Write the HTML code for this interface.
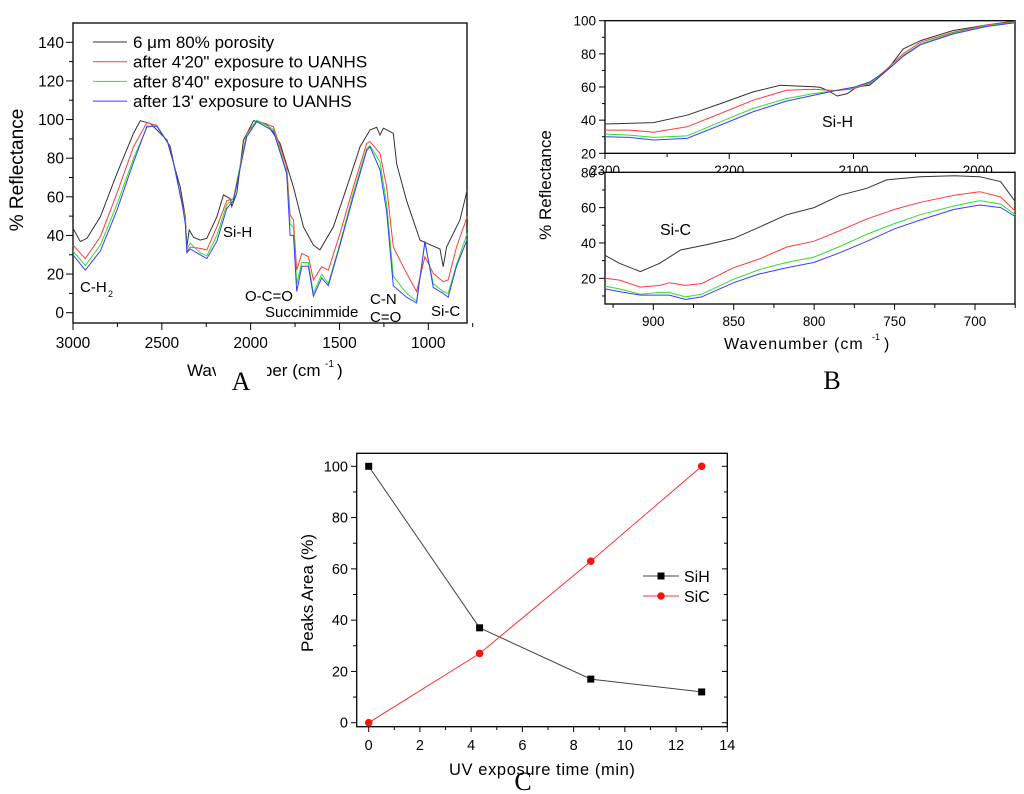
<!DOCTYPE html>
<html><head><meta charset="utf-8"><style>
html,body{margin:0;padding:0;background:#fff;}
svg{display:block;font-family:"Liberation Sans",sans-serif;}
</style></head><body>
<svg id="fig" width="1024" height="794" viewBox="0 0 1024 794" xmlns="http://www.w3.org/2000/svg"></svg>
<script>
// ---------- Panel A data ----------
const aWaveBlack=[3000,2959,2921,2846,2753,2659,2621,2565,2471,2396,2368,2359,2346,2321,2284,2247,2190,2153,2115,2106,2078,2040,1984,1909,1834,1759,1703,1647,1610,1534,1459,1384,1328,1291,1272,1253,1197,1178,1122,1047,1009,934,916,897,822,781];
const aBlack=[43.7,36.8,38.5,49.7,72,93,99.4,98,89.4,65,49.7,34,42.8,39,37.6,38.5,49.7,61,59,55,62,89.4,99.4,97.7,87.7,65,44.5,35,32.5,44.5,65,86,94.6,96,92,95.5,92.9,77,58,37.6,36,33,23.8,34,48,63.5];
const aWave=[3000,2931,2846,2753,2659,2584,2528,2453,2387,2368,2359,2340,2284,2247,2190,2134,2097,2022,1966,1872,1797,1778,1759,1741,1712,1675,1647,1600,1563,1497,1422,1347,1328,1272,1234,1197,1122,1066,1019,972,916,888,841,781];
const aRed=[35,28,39.4,61.8,86,98.4,97,86,56.6,49.7,31.6,34,33.3,32.5,44.5,58,59,92.9,99.4,96.3,75.6,50.6,48,22,30.7,29,17,23.8,22,41,65,87.7,88.6,82.5,65,34,20.4,10.9,29,20.4,16,17,34,49.7];
const aGreen=[32,24.5,35,56,80,96,97,86,57,48,33,36,31,29.5,40,56,59,92,99.6,95,73,46,44,15,26,26,10,20,15,36,62,85,86.5,78,56,19,10,6,36,15,11,10,25,41];
const aBlue=[30,22,32,53,78,96.5,96.5,86,57,46,31,33,30,28,37,54,58,91,99,94,72,40,40,11,24,24,8.5,18,14,35,60,84,86,74,52,14,8,5,37,13,10,8,24,38];
const aYTicks=[0,20,40,60,80,100,120,140];
const aXTicks=[3000,2500,2000,1500,1000];
const aLegend=["6 \u03bcm 80% porosity","after 4'20\" exposure to UANHS","after 8'40\" exposure to UANHS","after 13' exposure to UANHS"];
// ---------- Panel B data ----------
const bhWave=[2300,2280,2261,2234,2207,2181,2154,2132,2113,2100,2087,2073,2060,2046,2020,1993,1970];
const bhWaveBlack=[2300,2261,2234,2207,2181,2159,2146,2132,2127,2121,2113,2105,2097,2087,2073,2060,2046,2020,1993,1970];
const bhBlack=[37.7,38.5,43,50,57,61,60.6,60.2,59.8,58,54.6,56,60.2,61,70,83,88,94,97.4,99.8];
const bhRed=[34,34,32.7,36,44,52,58,58.6,57.8,59,62,71,80,87,93,97.4,99.4];
const bhGreen=[31.6,31,29.6,30.5,39,47,53,56,58,59.5,62.5,70,79,86,92.5,97,99];
const bhBlue=[30,29.6,28,29,37,45,51.5,55,58,59.8,63,70,78.5,85.5,92,96.5,98.8];
const bhYTicks=[20,40,60,80,100];
const bhXTicks=[2300,2200,2100,2000];
const bcWaveBlack=[930,921,908,896,883,867,850,834,817,800,784,767,755,734,713,697,684,675];
const bcBlack=[33,28.5,23.8,28.5,36,39,42.6,49,56,60,67,71,75.7,77.5,78,77.5,74.7,63.4];
const bcWave=[930,921,908,896,890,880,870,850,834,817,800,784,767,750,734,713,697,684,675];
const bcRed=[20,19,15,16,17.5,16,17,26,31,37.7,41,47,53.7,59,63,67,69,66,58];
const bcGreen=[15.5,14,11,12,12,9.5,11,19.5,25,29,32,38,45,51,56,61,64,62,56];
const bcBlue=[14,12.5,10.5,10.5,10.5,8,9.5,17.5,22.5,26,29,34.5,41,48,53,59,61.5,60,55];
const bcYTicks=[20,40,60,80];
const bcXTicks=[900,850,800,750,700];
// ---------- Panel C data ----------
const cTime=[0,4.33,8.67,13];
const cSiH=[100,37,17,12];
const cSiC=[0,27,63,100];
const cYTicks=[0,20,40,60,80,100];
const cXTicks=[0,2,4,6,8,10,12,14];

const NS="http://www.w3.org/2000/svg";
const svg=document.getElementById('fig');
function el(tag,attrs,parent){const e=document.createElementNS(NS,tag);for(const k in attrs)e.setAttribute(k,attrs[k]);(parent||svg).appendChild(e);return e;}
function txt(s,attrs,parent){const e=el('text',attrs,parent);e.textContent=s;return e;}
function lin(d0,d1,r0,r1){return v=>r0+(v-d0)*(r1-r0)/(d1-d0);}
function poly(xs,ys,X,Y,color,g,name){
  const n=Math.min(xs.length,ys.length);let d='';
  for(let i=0;i<n;i++)d+=(i?'L':'M')+X(xs[i]).toFixed(1)+','+Y(ys[i]).toFixed(1);
  const p=el('path',{d:d,fill:'none',stroke:color,'stroke-width':1},g);
  
  
  return p;
}
const COLORS=['#333','#ff3b3b','#2ee02e','#3b3bff'];

// ================= Panel A =================
const gA=el('g',{});


const AX=lin(3000,1000,73,428.3), AY=lin(0,140,312.7,42.3);
el('rect',{x:73,y:23,width:394,height:300,fill:'none',stroke:'#000','stroke-width':1.3},gA);
poly(aWaveBlack,aBlack,AX,AY,COLORS[0],gA,'series-porous-si');
poly(aWave,aRed,AX,AY,COLORS[1],gA,'series-4min20');
poly(aWave,aGreen,AX,AY,COLORS[2],gA,'series-8min40');
poly(aWave,aBlue,AX,AY,COLORS[3],gA,'series-13min');
for(const t of aYTicks){const y=AY(t);el('line',{x1:66,x2:73,y1:y,y2:y,stroke:'#000'},gA);
  const l=txt(String(t),{x:64,y:y+5.5,'font-size':15.5,'text-anchor':'end'},gA);}
for(let t=10;t<=140;t+=20){const y=AY(t);el('line',{x1:69,x2:73,y1:y,y2:y,stroke:'#000'},gA);}
for(const t of aXTicks){const x=AX(t);el('line',{x1:x,x2:x,y1:323,y2:330,stroke:'#000'},gA);
  const l=txt(String(t),{x:x,y:348,'font-size':15.5,'text-anchor':'middle'},gA);}
for(let t=2750;t>=750;t-=500){const x=AX(t);el('line',{x1:x,x2:x,y1:323,y2:327,stroke:'#000'},gA);}
let t1=txt('% Reflectance',{x:0,y:0,'font-size':19,'text-anchor':'middle',transform:'translate(23,170) rotate(-90)'},gA);

let t2=txt('Wavenumber (cm',{x:187,y:376,'font-size':17},gA);

txt('-1',{x:325,y:367,'font-size':10},gA);txt(')',{x:337,y:376,'font-size':17},gA);
el('rect',{x:216,y:356,width:51,height:38,fill:'#fff'},gA);
let pa=txt('A',{x:241,y:390,'font-size':26,'text-anchor':'middle','font-family':'Liberation Serif, serif'},gA);

aLegend.forEach((s,i)=>{const y=42+i*19.7;
  const ln=el('line',{x1:93,x2:127,y1:y,y2:y,stroke:COLORS[i]},gA);
  
  const l=txt(s,{x:133,y:y+6,'font-size':17},gA);});
const annA=[['C-H',80,292],['Si-H',223,237],['O-C=O',245,301],['Succinimmide',265,317],['C-N',370,304],['C=O',370,322],['Si-C',431,316]];
annA.forEach(a=>{const l=txt(a[0],{x:a[1],y:a[2],'font-size':15},gA);});
txt('2',{x:108,y:297,'font-size':9},gA);

// ================= Panel B =================
const gB=el('g',{});


const BHX=lin(2300,2000,605,977.7), BHY=lin(20,100,153.3,20.7);
el('rect',{x:605,y:20.7,width:410,height:132.6,fill:'none',stroke:'#000','stroke-width':1.3},gB);
poly(bhWaveBlack,bhBlack,BHX,BHY,COLORS[0],gB,'sih-series-porous-si');
poly(bhWave,bhRed,BHX,BHY,COLORS[1],gB,'sih-series-4min20');
poly(bhWave,bhGreen,BHX,BHY,COLORS[2],gB,'sih-series-8min40');
poly(bhWave,bhBlue,BHX,BHY,COLORS[3],gB,'sih-series-13min');
for(const t of bhYTicks){const y=BHY(t);el('line',{x1:599,x2:605,y1:y,y2:y,stroke:'#000'},gB);
  const l=txt(String(t),{x:596,y:y+5,'font-size':13.5,'text-anchor':'end'},gB);}
for(let t=30;t<=90;t+=20){const y=BHY(t);el('line',{x1:602,x2:605,y1:y,y2:y,stroke:'#000'},gB);}
for(const t of bhXTicks){const x=BHX(t);el('line',{x1:x,x2:x,y1:153,y2:159,stroke:'#000'},gB);
  const l=txt(String(t),{x:x,y:175,'font-size':13.5,'text-anchor':'middle'},gB);}
for(let t=2250;t>=2000;t-=100){const x=BHX(t);el('line',{x1:x,x2:x,y1:153,y2:157,stroke:'#000'},gB);}
let sh=txt('Si-H',{x:822,y:127,'font-size':16},gB);
// lower
const BCX=lin(900,700,653.3,975), BCY=lin(20,80,278.3,172.3);
el('rect',{x:605,y:172.3,width:410,height:131.7,fill:'#fff',stroke:'#000','stroke-width':1.3},gB);
poly(bcWaveBlack,bcBlack,BCX,BCY,COLORS[0],gB,'sic-series-porous-si');
poly(bcWave,bcRed,BCX,BCY,COLORS[1],gB,'sic-series-4min20');
poly(bcWave,bcGreen,BCX,BCY,COLORS[2],gB,'sic-series-8min40');
poly(bcWave,bcBlue,BCX,BCY,COLORS[3],gB,'sic-series-13min');
for(const t of bcYTicks){const y=BCY(t);el('line',{x1:599,x2:605,y1:y,y2:y,stroke:'#000'},gB);
  const l=txt(String(t),{x:596,y:y+5,'font-size':13.5,'text-anchor':'end'},gB);}
for(let t=10;t<=70;t+=20){const y=BCY(t);el('line',{x1:602,x2:605,y1:y,y2:y,stroke:'#000'},gB);}
for(const t of bcXTicks){const x=BCX(t);el('line',{x1:x,x2:x,y1:304,y2:310,stroke:'#000'},gB);
  const l=txt(String(t),{x:x,y:326,'font-size':13.5,'text-anchor':'middle'},gB);}
for(let t=925;t>=675;t-=50){const x=BCX(t);el('line',{x1:x,x2:x,y1:304,y2:308,stroke:'#000'},gB);}
let sc=txt('Si-C',{x:660,y:235,'font-size':16},gB);
let by=txt('% Reflectance',{x:0,y:0,'font-size':17,'text-anchor':'middle',transform:'translate(551,185) rotate(-90)'},gB);

let bx=txt('Wavenumber (cm',{x:724,y:349,'font-size':16,'letter-spacing':1},gB);

txt('-1',{x:872,y:340,'font-size':9},gB);txt(')',{x:884,y:349,'font-size':16},gB);
let pb=txt('B',{x:832,y:389,'font-size':26,'text-anchor':'middle','font-family':'Liberation Serif, serif'},gB);


// ================= Panel C =================
const gC=el('g',{});


const CX=lin(0,14,368.7,727.3), CY=lin(0,100,722.7,466.3);
el('rect',{x:356.7,y:453.3,width:370.6,height:273.4,fill:'none',stroke:'#000','stroke-width':1.3},gC);
for(const t of cYTicks){const y=CY(t);el('line',{x1:351,x2:356.7,y1:y,y2:y,stroke:'#000'},gC);el('line',{x1:722,x2:727.3,y1:y,y2:y,stroke:'#000'},gC);
  const l=txt(String(t),{x:348,y:y+5,'font-size':14.5,'text-anchor':'end'},gC);}
for(let t=10;t<=100;t+=20){const y=CY(t);el('line',{x1:353,x2:356.7,y1:y,y2:y,stroke:'#000'},gC);el('line',{x1:724,x2:727.3,y1:y,y2:y,stroke:'#000'},gC);}
for(const t of cXTicks){const x=CX(t);el('line',{x1:x,x2:x,y1:726.7,y2:732,stroke:'#000'},gC);
  const l=txt(String(t),{x:x,y:750,'font-size':14.5,'text-anchor':'middle'},gC);}
for(let t=1;t<14;t+=2){const x=CX(t);el('line',{x1:x,x2:x,y1:726.7,y2:730,stroke:'#000'},gC);}
poly(cTime,cSiH,CX,CY,'#444',gC,'sih-line');
poly(cTime,cSiC,CX,CY,'#ff3030',gC,'sic-line');
cTime.forEach((t,i)=>{
  const s=el('rect',{x:CX(t)-3.5,y:CY(cSiH[i])-3.5,width:7,height:7,fill:'#000'},gC);
  
  
  const c=el('circle',{cx:CX(t),cy:CY(cSiC[i]),r:3.8,fill:'#ff1010'},gC);
  
  
});
el('line',{x1:643,x2:679,y1:576,y2:576,stroke:'#444'},gC);
el('rect',{x:657.5,y:572.5,width:7,height:7,fill:'#000'},gC);
let l1=txt('SiH',{x:684,y:582,'font-size':16},gC);
el('line',{x1:643,x2:679,y1:596,y2:596,stroke:'#ff3030'},gC);
el('circle',{cx:661,cy:596,r:3.8,fill:'#ff1010'},gC);
let l2=txt('SiC',{x:684,y:602,'font-size':16},gC);
let cy=txt('Peaks Area (%)',{x:0,y:0,'font-size':17,'text-anchor':'middle',transform:'translate(313,593) rotate(-90)'},gC);

let cx=txt('UV exposure time (min)',{x:449,y:775,'font-size':16.5,'letter-spacing':0.6},gC);

let pc=txt('C',{x:523,y:790,'font-size':26,'text-anchor':'middle','font-family':'Liberation Serif, serif'},gC);

</script>
</body></html>
